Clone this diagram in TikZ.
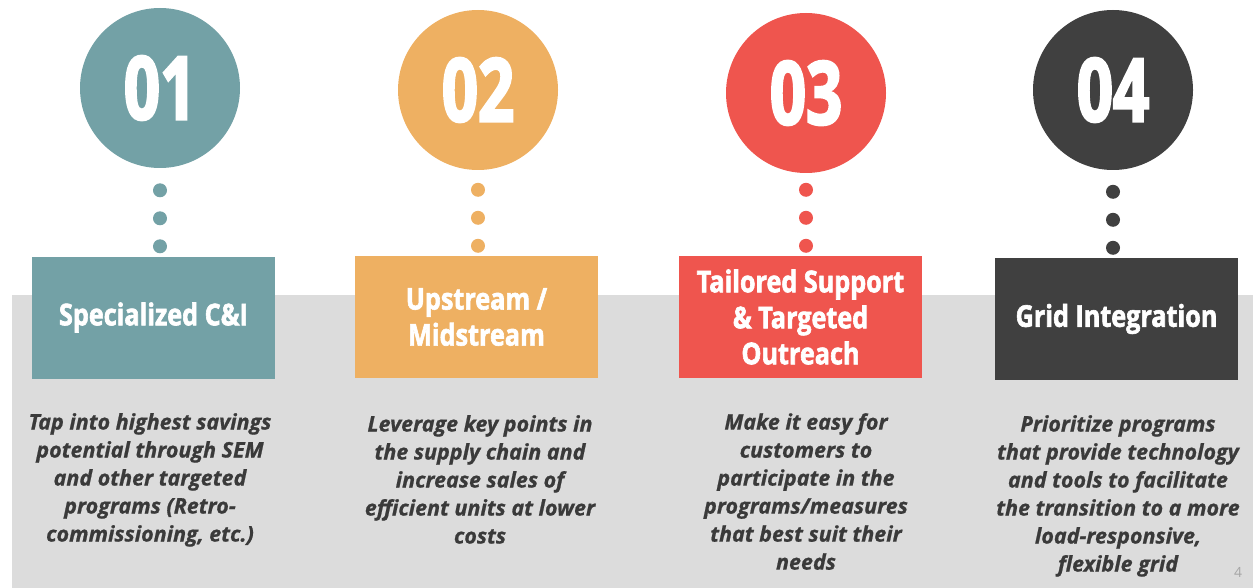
\documentclass[tikz,border=0pt]{standalone}
\usepackage{fontspec}
\setmainfont{Open Sans}
\newfontfamily\headfont{Open Sans}[FakeStretch=0.84,FakeBold=2]
\newfontfamily\numfont{Open Sans}[FakeStretch=0.72,FakeBold=2.5]
\newfontfamily\descfont{Open Sans}[BoldItalicFeatures={FakeBold=0.8}]
\usetikzlibrary{positioning}
\definecolor{tealc}{HTML}{73A1A6}
\definecolor{orangec}{HTML}{EEB062}
\definecolor{redc}{HTML}{EF554E}
\definecolor{darkc}{HTML}{404040}
\definecolor{bandgrey}{HTML}{DCDCDC}
\definecolor{textgrey}{HTML}{3A3A3A}
\definecolor{pagegrey}{HTML}{A6A6A6}

\begin{document}
\begin{tikzpicture}[x=1pt, y=-1pt,
  numcirc/.style={circle, minimum size=160pt, inner sep=0pt, text=white,
    font=\numfont\bfseries\fontsize{88}{88}\selectfont},
  headbox/.style={rectangle, minimum width=243pt, minimum height=122pt, inner sep=0pt,
    text=white, align=center, font=\headfont\bfseries\fontsize{30}{36}\selectfont},
  desc/.style={anchor=north, align=center, inner sep=0pt, text=textgrey,
    font=\descfont\bfseries\itshape\fontsize{21.5}{28}\selectfont},
  pagenum/.style={text=pagegrey, font=\fontsize{14}{14}\selectfont}]
\useasboundingbox (0,0) rectangle (1253,588);
% grey band behind the lower half
\fill[bandgrey] (12,295) rectangle (1253,588);

% numbered circles
\node[numcirc, fill=tealc]   (c1) at (160,88)  {01};
\node[numcirc, fill=orangec] (c2) at (478,90)  {02};
\node[numcirc, fill=redc]    (c3) at (806,93)  {03};
\node[numcirc, fill=darkc]   (c4) at (1113,90) {04};

% heading boxes
\node[headbox, fill=tealc]   (b1) at (153.5,317.5) {Specialized C\&I};
\node[headbox, fill=orangec] (b2) at (476.5,317)   {Upstream /\\Midstream};
\node[headbox, fill=redc]    (b3) at (800.5,317)   {Tailored Support\\\& Targeted\\Outreach};
\node[headbox, fill=darkc]   (b4) at (1116.5,319)  {Grid Integration};

% three dots from circle down to box
\foreach \i/\col in {1/tealc,2/orangec,3/redc,4/darkc}
  \foreach \d in {10,38,66}
    \fill[\col] (c\i.south |- b\i.north) ++(0,-\d) circle (7pt);

% descriptions
\node[desc] (d1) at (150,413)  {Tap into highest savings\\potential through SEM\\and other targeted\\programs (Retro-\\commissioning, etc.)};
\node[desc] (d2) at (480,415)  {Leverage key points in\\the supply chain and\\increase sales of\\efficient units at lower\\costs};
\node[desc] (d3) at (806,413)  {Make it easy for\\customers to\\participate in the\\programs/measures\\that best suit their\\needs};
\node[desc] (d4) at (1118,415) {Prioritize programs\\that provide technology\\and tools to facilitate\\the transition to a more\\load-responsive,\\flexible grid};

\node[pagenum] (pg) at (1238,572) {4};
\end{tikzpicture}
\end{document}
